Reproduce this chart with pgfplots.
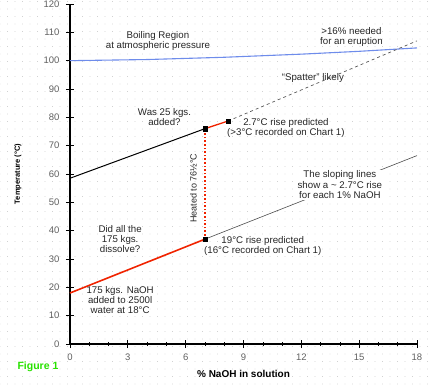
\documentclass[border=0pt]{standalone}
\usepackage{pgfplots}
\pgfplotsset{compat=1.18}
\usepackage{fontspec}
\setmainfont{Liberation Sans}
\usetikzlibrary{patterns.meta}
\definecolor{boil}{RGB}{110,140,235}
\definecolor{hot}{RGB}{240,35,0}
\definecolor{figgreen}{RGB}{40,225,0}
\tikzdeclarepattern{
  name=mydots,
  type=uncolored,
  bounding box={(-3.75pt,-3.75pt) and (3.75pt,3.75pt)},
  tile size={(7.5pt,7.5pt)},
  code={\fill (0pt,0pt) circle (0.45pt);}
}
\tikzset{annot/.style={font=\fontsize{9.7}{10.3}\selectfont, text=black!85, align=center}}
\begin{document}
\begin{tikzpicture}[x=1pt,y=1pt]
\useasboundingbox (-70,-40) rectangle (361,344);
\fill[pattern=mydots, pattern color=gray!55] (-70,-40) rectangle (361,344);
\begin{axis}[
  scale only axis, width=347pt, height=340pt,
  xmin=0, xmax=18, ymin=0, ymax=120,
  axis lines=left,
  axis line style={-, line width=1.2pt},
  xtick={0,3,...,18}, ytick={0,10,...,120},
  minor xtick={1,2,4,5,7,8,10,11,13,14,16,17},
  tick align=center,
  major tick length=8pt, minor tick length=4pt,
  tick style={black, line width=0.9pt},
  minor tick style={line width=0.5pt},
  clip=false,
  tick label style={font=\fontsize{9.5}{10}\selectfont, text=gray!75!black},
  yticklabel style={xshift=-3pt},
  xticklabel style={yshift=-2pt},
  /pgf/number format/assume math mode=true,
  xlabel={\bfseries\% NaOH in solution},
  ylabel={\bfseries Temperature (°C)},
  xlabel style={at={(axis description cs:0.5,-0.088)}, anchor=center, font=\fontsize{10}{10}\selectfont},
  ylabel style={at={(axis description cs:-0.150,0.5)}, anchor=center, font=\fontsize{7.5}{9}\selectfont},
]
\addplot[boil, line width=1.1pt] coordinates {(0,100) (4,100.4) (8,101.2) (12,102.3) (15,103.3) (18,104.5)};
\addplot[black, line width=1pt] coordinates {(0,58.5) (7,76)};
\addplot[hot, line width=1.3pt] coordinates {(7,76) (8.2,78.7)};
\addplot[gray!70!black, dashed, line width=0.7pt] coordinates {(8.2,78.7) (18,107)};
\addplot[hot, line width=1.6pt] coordinates {(0,18) (7,37)};
\addplot[gray!60!black, line width=0.6pt] coordinates {(7,37) (18,66.5)};
\addplot[hot, dotted, line width=1.6pt] coordinates {(7,37) (7,76)};
\addplot[only marks, mark=square*, mark size=2.2pt, black] coordinates {(7,76) (8.2,78.7) (7,37)};
\node[annot] at (axis cs:4.56,107) {Boiling Region\\at atmospheric pressure};
\node[annot] at (axis cs:14.6,108.3) {>16\% needed\\for an eruption};
\node[annot] at (axis cs:12.6,93.8) {“Spatter” likely};
\node[annot] at (axis cs:4.9,80) {Was 25 kgs.\\added?};
\node[annot] at (axis cs:11.2,76.2) {2.7°C rise predicted\\(>3°C recorded on Chart 1)};
\node[annot, fill=white, inner sep=1pt] at (axis cs:14.0,56.2) {The sloping lines\\show a \textasciitilde{} 2.7°C rise\\for each 1\% NaOH};
\node[annot] at (axis cs:10.0,34.5) {19°C rise predicted\\(16°C recorded on Chart 1)};
\node[annot] at (axis cs:2.6,37.1) {Did all the\\175 kgs.\\dissolve?};
\node[annot] at (axis cs:2.6,15.5) {175 kgs. NaOH\\added to 2500l\\water at 18°C};
\node[annot, rotate=90, font=\fontsize{9}{9}\selectfont] at (axis cs:6.4,55) {Heated to 76½°C};
\end{axis}
\node[font=\fontsize{10.5}{12}\selectfont\bfseries, text=figgreen] at (-32,-23) {Figure 1};
\end{tikzpicture}
\end{document}
